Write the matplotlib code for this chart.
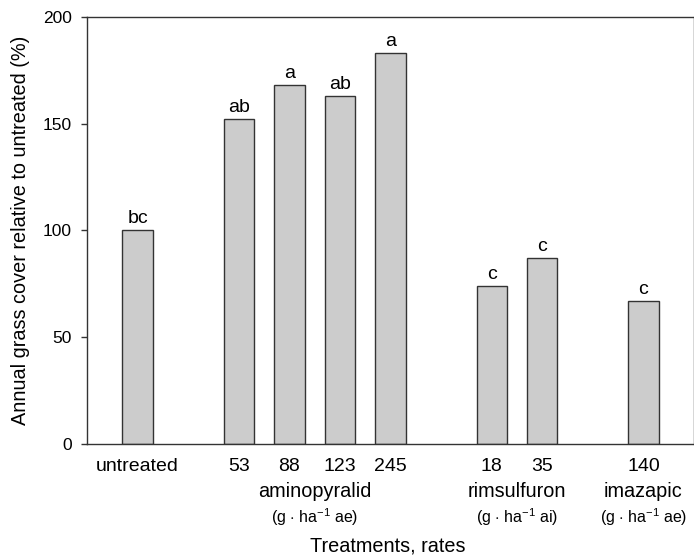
import matplotlib
matplotlib.use('Agg')
import matplotlib.pyplot as plt

plt.rcParams['font.family'] = ['Liberation Sans', 'DejaVu Sans']
plt.rcParams['mathtext.fontset'] = 'custom'
plt.rcParams['mathtext.rm'] = 'Liberation Sans'
plt.rcParams['mathtext.it'] = 'Liberation Sans'

# data
positions = [0, 2, 3, 4, 5, 7, 8, 10]
rates = ['untreated', '53', '88', '123', '245', '18', '35', '140']
cover = [100, 152, 168, 163, 183, 74, 87, 67]
letters = ['bc', 'ab', 'a', 'ab', 'a', 'c', 'c', 'c']

groups = ['aminopyralid', 'rimsulfuron', 'imazapic']
group_pos = [3.5, 7.5, 10]
group_units = ['(g $\\cdot$ ha$^{-1}$ ae)', '(g $\\cdot$ ha$^{-1}$ ai)', '(g $\\cdot$ ha$^{-1}$ ae)']

dark = '#333333'

fig = plt.figure(figsize=(6.94, 5.57), dpi=100)
ax = fig.add_axes([0.1254, 0.203, 0.8746, 0.7666])

ax.bar(positions, cover, width=0.6, color='#cccccc', edgecolor=dark, linewidth=1.0)
for p, v, l in zip(positions, cover, letters):
    ax.text(p, v + 1.5, l, ha='center', va='bottom', fontsize=14)

ax.set_xlim(-1, 11)
ax.set_ylim(0, 200)
ax.set_yticks([0, 50, 100, 150, 200])
ax.set_xticks(positions)
ax.set_xticklabels(rates)
ax.tick_params(axis='x', length=0, labelsize=14, pad=10)
ax.tick_params(axis='y', direction='out', length=4, width=1, colors=dark,
               labelcolor='black', labelsize=12.5, pad=7)

for s in ['left', 'top', 'bottom', 'right']:
    ax.spines[s].set_color(dark)
    ax.spines[s].set_linewidth(1.0)

for g, x, u in zip(groups, group_pos, group_units):
    ax.text(x, -22.4, g, ha='center', va='center', fontsize=14.3,
            clip_on=False)
    ax.text(x, -34.1, u, ha='center', va='center', fontsize=11.5,
            clip_on=False)

ax.text(4.95, -47.8, 'Treatments, rates', ha='center', va='center', fontsize=14.3,
        clip_on=False)
ax.set_ylabel('Annual grass cover relative to untreated (%)', fontsize=14.3, labelpad=9)

fig.savefig('out.png', dpi=100)
